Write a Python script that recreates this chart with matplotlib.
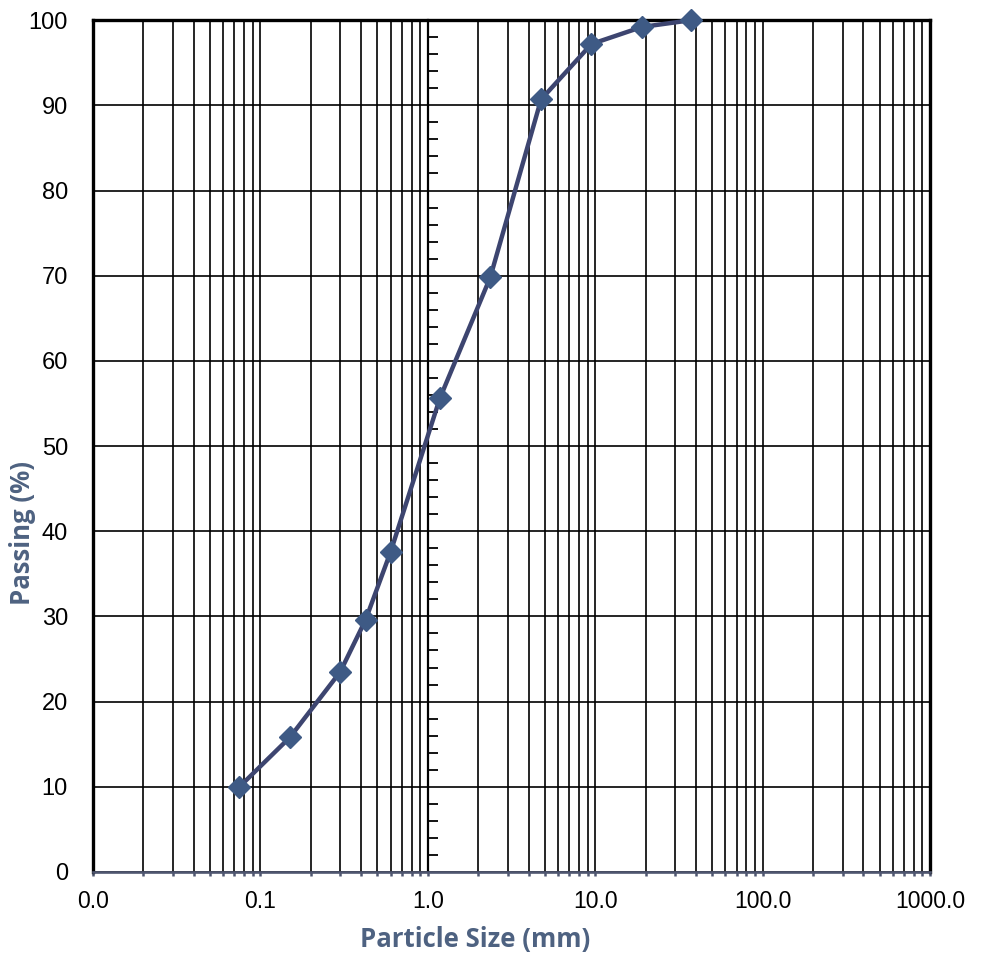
import matplotlib
matplotlib.use("Agg")
import matplotlib.pyplot as plt
from matplotlib.ticker import FixedLocator, FuncFormatter, LogLocator, MultipleLocator, NullFormatter

# Sieve sizes (mm) and cumulative percent passing.
sieve_mm = [0.075, 0.15, 0.3, 0.425, 0.6, 1.18, 2.36, 4.75, 9.5, 19.0, 37.5]
passing_pct = [10.0, 15.8, 23.5, 29.6, 37.6, 55.6, 69.8, 90.7, 97.2, 99.2, 100.0]

x_major_ticks = [0.01, 0.1, 1.0, 10.0, 100.0, 1000.0]
y_major_ticks = list(range(0, 101, 10))

LINE_COLOR = "#3d4570"
MARKER_COLOR = "#3e5a85"
TITLE_COLOR = "#4e6281"
AXIS_COLOR = "#4f5670"

fig = plt.figure(figsize=(9.87, 9.6), dpi=100)
ax = fig.add_axes([0.0942, 0.0917, 0.9423 - 0.0942, 0.979 - 0.0917])

ax.set_xscale("log")
ax.set_xlim(0.01, 1000)
ax.set_ylim(0, 100)

ax.xaxis.set_major_locator(FixedLocator(x_major_ticks))
ax.xaxis.set_minor_locator(LogLocator(base=10, subs=range(2, 10), numticks=20))
ax.xaxis.set_major_formatter(FuncFormatter(lambda v, _: f"{v:.1f}"))
ax.xaxis.set_minor_formatter(NullFormatter())
ax.yaxis.set_major_locator(FixedLocator(y_major_ticks))

ax.grid(which="major", axis="both", color="black", linewidth=1.2)
ax.grid(which="minor", axis="x", color="black", linewidth=1.2)
ax.set_axisbelow(True)

for side in ("left", "top", "right"):
    ax.spines[side].set_color("black")
    ax.spines[side].set_linewidth(2.4)
ax.spines["bottom"].set_color(AXIS_COLOR)
ax.spines["bottom"].set_linewidth(1.9)

ax.tick_params(axis="y", which="both", length=0, pad=18, labelsize=17,
               labelcolor="black")
ax.tick_params(axis="x", which="both", direction="out", length=3, width=1.8,
               color=AXIS_COLOR, pad=10, labelsize=16.5, labelcolor="black")
for lbl in ax.get_xticklabels() + ax.get_yticklabels():
    lbl.set_fontfamily("Liberation Sans")

ax.plot(sieve_mm, passing_pct, color=LINE_COLOR, linewidth=3.2, marker="D",
        markersize=11.5, markerfacecolor=MARKER_COLOR, markeredgecolor=MARKER_COLOR,
        clip_on=False, zorder=5)

ax.set_xlabel("Particle Size (mm)", fontsize=18.5, fontweight="bold",
              color=TITLE_COLOR, family="Open Sans")
ax.set_ylabel("Passing (%)", fontsize=18.5, fontweight="bold",
              color=TITLE_COLOR, family="Open Sans")
# Excel placed both titles a little off-centre.
ax.xaxis.set_label_coords(0.456, -0.063)
ax.yaxis.set_label_coords(-0.068, 0.398)

# Vertical value axis crossing at 1.0 mm, with minor ticks on its right side.
cross = fig.add_axes(ax.get_position(), sharey=ax)
cross.patch.set_visible(False)
cross.set_xlim(0, 1)
for side in ("top", "right", "bottom"):
    cross.spines[side].set_visible(False)
cross.spines["left"].set_position(("axes", 0.4))
cross.spines["left"].set_color("black")
cross.spines["left"].set_linewidth(1.6)
cross.set_xticks([])
cross.yaxis.set_minor_locator(MultipleLocator(2))
cross.tick_params(axis="y", which="major", length=0, labelleft=False)
cross.tick_params(axis="y", which="minor", direction="in", length=7, width=1.3,
                  color="black", labelleft=False)
cross.set_zorder(ax.get_zorder() - 0.5)
ax.set_zorder(1)
ax.patch.set_visible(False)

fig.savefig("out.png", dpi=100)
